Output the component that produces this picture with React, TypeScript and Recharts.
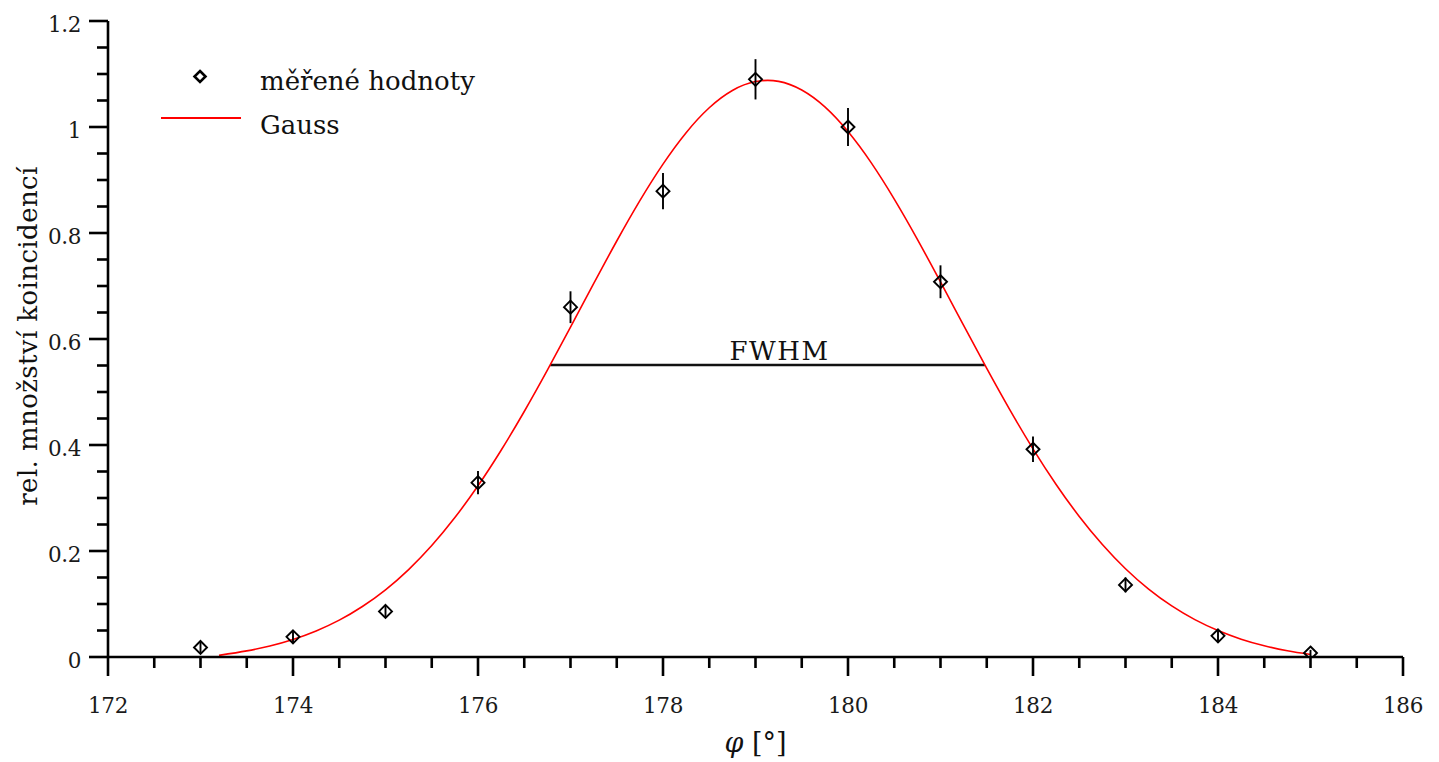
import React from 'react';
import {
  ComposedChart,
  Line,
  Scatter,
  XAxis,
  YAxis,
  ErrorBar,
  ReferenceLine,
  Legend,
} from 'recharts';

// measured points (angle, relative coincidence count, error)
const angles = [173, 174, 175, 176, 177, 178, 179, 180, 181, 182, 183, 184, 185];
const counts = [0.018, 0.038, 0.086, 0.329, 0.66, 0.879, 1.09, 1.0, 0.708, 0.392, 0.136, 0.04, 0.0075];
const errors = [0.011, 0.012, 0.011, 0.022, 0.03, 0.034, 0.038, 0.036, 0.031, 0.024, 0.014, 0.011, 0.006];

// Gaussian fit curve
const gaussX = [
  173.2, 173.5, 173.75, 174, 174.25, 174.5, 174.75, 175, 175.25, 175.5, 175.75, 176,
  176.25, 176.5, 176.75, 177, 177.25, 177.5, 177.75, 178, 178.25, 178.5, 178.75, 179,
  179.25, 179.5, 179.75, 180, 180.25, 180.5, 180.75, 181, 181.25, 181.5, 181.75, 182,
  182.25, 182.5, 182.75, 183, 183.25, 183.5, 183.75, 184, 184.25, 184.5, 184.75, 185,
];
const gaussY = [
  0.003, 0.0115, 0.0208, 0.0331, 0.0491, 0.0695, 0.0953, 0.1268, 0.165, 0.2103, 0.2631, 0.323,
  0.3901, 0.4632, 0.5412, 0.6223, 0.7043, 0.7849, 0.8611, 0.93, 0.9893, 1.0363, 1.0689, 1.0857,
  1.0861, 1.0698, 1.0379, 0.9914, 0.9327, 0.8639, 0.788, 0.7076, 0.6256, 0.5444, 0.4662, 0.3928,
  0.3256, 0.2652, 0.2123, 0.1666, 0.1282, 0.0964, 0.0705, 0.0499, 0.0337, 0.0212, 0.0118, 0.0048,
];

// FWHM segment
const fwhmStart = 176.78;
const fwhmEnd = 181.48;
const fwhmLevel = 0.551;

// ticks
const xTicks = [
  172, 172.5, 173, 173.5, 174, 174.5, 175, 175.5, 176, 176.5, 177, 177.5, 178, 178.5,
  179, 179.5, 180, 180.5, 181, 181.5, 182, 182.5, 183, 183.5, 184, 184.5, 185, 185.5, 186,
];
const xMajor = [172, 174, 176, 178, 180, 182, 184, 186];
const yTicks = [
  0, 0.05, 0.1, 0.15, 0.2, 0.25, 0.3, 0.35, 0.4, 0.45, 0.5, 0.55, 0.6, 0.65, 0.7, 0.75,
  0.8, 0.85, 0.9, 0.95, 1, 1.05, 1.1, 1.15, 1.2,
];
const yMajor = [0, 0.2, 0.4, 0.6, 0.8, 1, 1.2];
const yMajorLabels = ['0', '0.2', '0.4', '0.6', '0.8', '1', '1.2'];

const pointData = angles.map((a, i) => ({ x: a, y: counts[i], err: errors[i] }));
const gaussData = gaussX.map((a, i) => ({ x: a, y: gaussY[i] }));

const FONT = 'DejaVu Serif';
const txt = (size: number, ls: number, extra: any = {}) => ({
  fontFamily: FONT,
  fontSize: size,
  letterSpacing: ls,
  ...extra,
});

const isIn = (arr: number[], v: number) => arr.findIndex((m) => Math.abs(m - v) < 1e-6);

const XTick = (props: any) => {
  const { x, y, payload } = props;
  const idx = isIn(xMajor, payload.value);
  const major = idx >= 0;
  return (
    <g>
      <line x1={x} x2={x} y1={y} y2={y + (major ? 19 : 11)} stroke="#000" strokeWidth={2.6} />
      {major && (
        <text x={x} y={y + 56} textAnchor="middle" fill="#1a1a1a" style={txt(21.5, -0.4)}>
          {String(payload.value)}
        </text>
      )}
    </g>
  );
};

const YTick = (props: any) => {
  const { x, y, payload } = props;
  const idx = isIn(yMajor, payload.value);
  const major = idx >= 0;
  return (
    <g>
      <line x1={x} x2={x - (major ? 19 : 11)} y1={y} y2={y} stroke="#000" strokeWidth={2.6} />
      {major && (
        <text x={x - 27} y={y + 11} textAnchor="end" fill="#1a1a1a" style={txt(21.5, -0.4)}>
          {yMajorLabels[idx]}
        </text>
      )}
    </g>
  );
};

const Diamond = (props: any) => {
  const { cx, cy } = props;
  if (cx == null || cy == null) return null;
  const r = 6.5;
  return (
    <path
      d={`M${cx},${cy - r} L${cx + r},${cy} L${cx},${cy + r} L${cx - r},${cy} Z`}
      fill="none"
      stroke="#000"
      strokeWidth={1.9}
    />
  );
};

const LegendBox = () => (
  <svg width={360} height={100} style={{ display: 'block' }}>
    <path d="M50,16 L55.5,21.5 L50,27 L44.5,21.5 Z" fill="none" stroke="#000" strokeWidth={2.6} />
    <text x={110} y={35} fill="#111" style={txt(26, 0)}>
      měřené hodnoty
    </text>
    <line x1={11} x2={91} y1={63} y2={63} stroke="#ff0000" strokeWidth={2.2} />
    <text x={110} y={79} fill="#111" style={txt(26, 0)}>
      Gauss
    </text>
  </svg>
);

const FwhmLabel = (props: any) => {
  const vb = props.viewBox || {};
  const x = (vb.x ?? 0) + (vb.width ?? 0) / 2 + 12;
  const y = (vb.y ?? 0) - 5;
  return (
    <text x={x} y={y} textAnchor="middle" fill="#111" style={txt(26, 1.5)}>
      FWHM
    </text>
  );
};

const XLabel = (props: any) => {
  const vb = props.viewBox || {};
  const x = (vb.x ?? 0) + (vb.width ?? 0) / 2;
  const y = (vb.y ?? 0) + 95;
  return (
    <text x={x} y={y} textAnchor="middle" fill="#111" style={txt(27, 0)}>
      <tspan fontStyle="italic">φ</tspan>
      <tspan> [°]</tspan>
    </text>
  );
};

const YLabel = (props: any) => {
  const vb = props.viewBox || {};
  const cy = (vb.y ?? 0) + (vb.height ?? 0) / 2 - 3;
  const cx = 37;
  return (
    <text
      x={cx}
      y={cy}
      textAnchor="middle"
      fill="#111"
      style={txt(26, 0.4)}
      transform={`rotate(-90, ${cx}, ${cy})`}
    >
      rel. množství koincidencí
    </text>
  );
};

export default function App() {
  return (
    <div style={{ position: 'absolute', left: 0, top: 0, background: '#fff', fontFamily: FONT }}>
      <ComposedChart width={1439} height={762} margin={{ top: 21, right: 36, bottom: 0, left: 0 }}>
        <XAxis
          type="number"
          dataKey="x"
          domain={[172, 186]}
          ticks={xTicks}
          interval={0}
          height={105}
          tickSize={0}
          tickMargin={0}
          tickLine={false}
          axisLine={{ stroke: '#000', strokeWidth: 2.6 }}
          tick={<XTick />}
          allowDataOverflow
          label={<XLabel />}
        />
        <YAxis
          type="number"
          dataKey="y"
          domain={[0, 1.2]}
          ticks={yTicks}
          interval={0}
          width={108}
          tickSize={0}
          tickMargin={0}
          tickLine={false}
          axisLine={{ stroke: '#000', strokeWidth: 2.6 }}
          tick={<YTick />}
          allowDataOverflow
          label={<YLabel />}
        />
        <Legend
          layout="vertical"
          align="center"
          verticalAlign="middle"
          content={<LegendBox />}
          wrapperStyle={{ position: 'absolute', left: 150, top: 55, width: 360, height: 100 }}
        />
        <ReferenceLine
          segment={[
            { x: fwhmStart, y: fwhmLevel },
            { x: fwhmEnd, y: fwhmLevel },
          ]}
          stroke="#111"
          strokeWidth={2.4}
          label={<FwhmLabel />}
        />
        <Line
          data={gaussData}
          dataKey="y"
          type="natural"
          stroke="#ff0000"
          strokeWidth={1.6}
          dot={false}
          activeDot={false}
          isAnimationActive={false}
          legendType="none"
        />
        <Scatter data={pointData} dataKey="y" shape={<Diamond />} isAnimationActive={false} legendType="none">
          <ErrorBar dataKey="err" direction="y" width={0} stroke="#000" strokeWidth={1.9} />
        </Scatter>
      </ComposedChart>
    </div>
  );
}
